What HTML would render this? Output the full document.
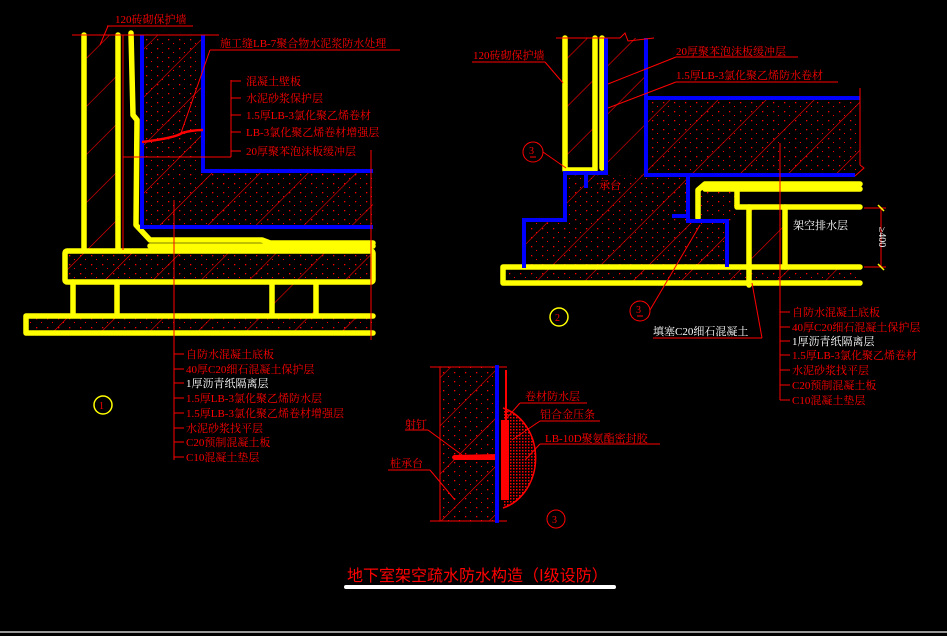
<!DOCTYPE html>
<html><head><meta charset="utf-8"><style>
html,body{margin:0;padding:0;background:#000;}
svg{display:block}
text{font-family:"Liberation Serif","Noto Serif CJK SC","Noto Sans CJK SC",serif;font-size:11px;fill:#f00}
.w{fill:#fff}
</style></head><body>
<svg width="947" height="636" viewBox="0 0 947 636" xmlns="http://www.w3.org/2000/svg">
<defs>
<pattern id="h" width="34" height="34" patternUnits="userSpaceOnUse" patternTransform="rotate(45)">
<rect width="34" height="34" fill="none"/>
<line x1="0" y1="0" x2="0" y2="34" stroke="#f00" stroke-width="1.2"/>
</pattern>
<pattern id="d" width="11" height="9" patternUnits="userSpaceOnUse">
<rect x="3" y="3" width="1.3" height="1.3" fill="#f00"/><rect x="8" y="7" width="1" height="1" fill="#f00"/>
</pattern>
<pattern id="s" width="3" height="3" patternUnits="userSpaceOnUse">
<rect width="3" height="3" fill="#000"/><rect x="0" y="0" width="1.5" height="1.5" fill="#f00"/>
</pattern>
</defs>
<rect width="947" height="636" fill="#000"/>

<!-- DETAIL 1 -->
<g>
<rect x="142" y="35" width="61" height="136" fill="url(#h)"/>
<rect x="142" y="35" width="61" height="136" fill="url(#d)"/>
<rect x="142" y="171" width="231" height="56" fill="url(#h)"/>
<rect x="142" y="171" width="231" height="56" fill="url(#d)"/>
<rect x="84" y="35" width="34" height="215" fill="url(#h)"/>
<rect x="63" y="250" width="310" height="32" fill="url(#h)"/>
<rect x="63" y="250" width="310" height="32" fill="url(#d)"/>
<rect x="24" y="314" width="349" height="21" fill="url(#h)"/>
<rect x="24" y="314" width="349" height="21" fill="url(#d)"/>
<rect x="272" y="282" width="44" height="32" fill="url(#h)"/>
<g stroke="#ff0" stroke-width="5.5" fill="none" stroke-linejoin="round" stroke-linecap="round">
<line x1="84" y1="35" x2="84" y2="250"/>
<line x1="118" y1="35" x2="118" y2="250"/>
<polyline points="131,33 133,115 137,120 136,225 150,240 262,240 270,243 373,243"/>
<line x1="150" y1="246" x2="373" y2="246"/>
<rect x="65" y="251" width="308" height="31" rx="2"/>
<line x1="73" y1="282" x2="73" y2="314"/>
<line x1="117" y1="282" x2="117" y2="314"/>
<line x1="272" y1="282" x2="272" y2="314"/>
<line x1="316" y1="282" x2="316" y2="314"/>
<path d="M373 316 H26 V333 H373"/>
</g>
<g stroke="#00f" stroke-width="4" fill="none">
<polyline points="142,35 142,227 373,227"/>
<polyline points="203,35 203,171 373,171"/>
</g>
<g stroke="#f00" stroke-width="1" fill="none">
<line x1="72" y1="35" x2="219" y2="35"/>
<line x1="107" y1="26" x2="193" y2="26"/>
<line x1="108" y1="26" x2="100" y2="45"/>
<line x1="210" y1="50" x2="400" y2="50"/>
<line x1="210" y1="50" x2="181" y2="133"/>
<line x1="123" y1="157" x2="231" y2="157"/>
<line x1="231" y1="80" x2="231" y2="157"/>
<line x1="231" y1="81" x2="241" y2="81"/><line x1="231" y1="98" x2="241" y2="98"/>
<line x1="231" y1="115" x2="241" y2="115"/><line x1="231" y1="132" x2="241" y2="132"/>
<line x1="231" y1="151" x2="241" y2="151"/>
<line x1="174" y1="200" x2="174" y2="460"/>
<line x1="371" y1="150" x2="371" y2="340"/>
<line x1="174" y1="354" x2="184" y2="354"/><line x1="174" y1="369" x2="184" y2="369"/>
<line x1="174" y1="383" x2="184" y2="383"/><line x1="174" y1="398" x2="184" y2="398"/>
<line x1="174" y1="413" x2="184" y2="413"/><line x1="174" y1="428" x2="184" y2="428"/>
<line x1="174" y1="442" x2="184" y2="442"/><line x1="174" y1="457" x2="184" y2="457"/>
<line x1="123" y1="35" x2="123" y2="250"/>
</g>
<path d="M142 142 Q175 138 182 133 Q192 130 203 130" stroke="#f00" stroke-width="2.5" fill="none"/>
<text x="115" y="23">120砖砌保护墙</text>
<text x="220" y="47">施工缝LB-7聚合物水泥浆防水处理</text>
<text x="246" y="85">混凝土壁板</text>
<text x="246" y="102">水泥砂浆保护层</text>
<text x="246" y="119">1.5厚LB-3氯化聚乙烯卷材</text>
<text x="246" y="136">LB-3氯化聚乙烯卷材增强层</text>
<text x="246" y="155">20厚聚苯泡沫板缓冲层</text>
<text x="186" y="358">自防水混凝土底板</text>
<text x="186" y="373">40厚C20细石混凝土保护层</text>
<text x="186" y="387" class="w">1厚沥青纸隔离层</text>
<text x="186" y="402">1.5厚LB-3氯化聚乙烯防水层</text>
<text x="186" y="417">1.5厚LB-3氯化聚乙烯卷材增强层</text>
<text x="186" y="432">水泥砂浆找平层</text>
<text x="186" y="446">C20预制混凝土板</text>
<text x="186" y="461">C10混凝土垫层</text>
<circle cx="103" cy="405" r="9" stroke="#ff0" stroke-width="1.5" fill="none"/>
<text x="99" y="409" style="font-size:10px">1</text>
</g>

<!-- DETAIL 2 -->
<g>
<rect x="646" y="98" width="214" height="77" fill="url(#h)"/>
<rect x="646" y="98" width="214" height="77" fill="url(#d)"/>
<rect x="606" y="38" width="40" height="137" fill="url(#h)"/>
<rect x="566" y="38" width="29" height="132" fill="url(#h)"/>
<path d="M565 175 H688 V221 H727 V267 H524 V220 H565Z" fill="url(#h)"/>
<path d="M565 175 H688 V221 H727 V267 H524 V220 H565Z" fill="url(#d)"/>
<rect x="693" y="190" width="44" height="31" fill="url(#d)"/>
<rect x="502" y="267" width="358" height="16" fill="url(#h)"/>
<rect x="502" y="267" width="358" height="16" fill="url(#d)"/>
<rect x="749" y="207" width="36" height="60" fill="url(#h)"/>
<g stroke="#ff0" stroke-width="5.5" fill="none" stroke-linejoin="round" stroke-linecap="round">
<polyline points="565,38 565,170 595,170 595,38"/>
<polyline points="602,38 602,168"/>
<polyline points="698,218 698,190 705,184 860,184"/>
<line x1="705" y1="189" x2="860" y2="189"/>
<polyline points="737,186 737,207 860,207"/>
<line x1="749" y1="207" x2="749" y2="285"/>
<line x1="785" y1="207" x2="785" y2="267"/>
<path d="M860 267 H503 V283 H860"/>
</g>
<g stroke="#00f" stroke-width="4" fill="none">
<line x1="606" y1="38" x2="606" y2="175"/>
<polyline points="646,38 646,98 860,98"/>
<polyline points="646,98 646,175 855,175"/>
<polyline points="606,173 565,173 565,220 524,220 524,268"/>
<polyline points="688,175 688,221 727,221 727,267"/>
<line x1="672" y1="216" x2="690" y2="216"/>
<line x1="586" y1="173" x2="586" y2="188"/>
</g>
<g stroke="#f00" stroke-width="1" fill="none">
<line x1="556" y1="38" x2="620" y2="38"/>
<polyline points="620,38 625,33 628,41 654,38"/>
<line x1="472" y1="62" x2="545" y2="62"/>
<line x1="545" y1="62" x2="563" y2="83"/>
<line x1="676" y1="57" x2="798" y2="57"/>
<line x1="676" y1="57" x2="608" y2="84"/>
<line x1="676" y1="82" x2="838" y2="82"/>
<line x1="676" y1="82" x2="608" y2="108"/>
<line x1="543" y1="152" x2="566" y2="168"/>
<line x1="860" y1="88" x2="860" y2="165"/>
<polyline points="860,165 864,168 855,176"/>
<line x1="780" y1="143" x2="780" y2="400"/>
<line x1="780" y1="312" x2="790" y2="312"/><line x1="780" y1="327" x2="790" y2="327"/>
<line x1="780" y1="341" x2="790" y2="341"/><line x1="780" y1="355" x2="790" y2="355"/>
<line x1="780" y1="370" x2="790" y2="370"/><line x1="780" y1="385" x2="790" y2="385"/>
<line x1="780" y1="400" x2="790" y2="400"/>
<line x1="881" y1="207" x2="881" y2="267"/>
<line x1="864" y1="208" x2="886" y2="208"/><line x1="864" y1="267" x2="886" y2="267"/>
<line x1="653" y1="338" x2="762" y2="338"/>
<line x1="762" y1="338" x2="752" y2="283"/>
<line x1="650" y1="310" x2="700" y2="225"/>
</g>
<line x1="878" y1="205" x2="884" y2="211" stroke="#ff0" stroke-width="1.5"/>
<line x1="878" y1="264" x2="884" y2="270" stroke="#ff0" stroke-width="1.5"/>
<circle cx="533" cy="152" r="10" stroke="#f00" fill="none"/>
<text x="529" y="154" style="font-size:10px">3</text><line x1="530" y1="157" x2="536" y2="157" stroke="#f00"/>
<circle cx="640" cy="311" r="10" stroke="#f00" fill="none"/>
<text x="636" y="313" style="font-size:10px">3</text><line x1="637" y1="316" x2="643" y2="316" stroke="#f00"/>
<circle cx="559" cy="317" r="9" stroke="#ff0" stroke-width="1.5" fill="none"/>
<text x="555" y="321" style="font-size:10px">2</text>
<text x="473" y="59">120砖砌保护墙</text>
<text x="676" y="55">20厚聚苯泡沫板缓冲层</text>
<text x="676" y="79">1.5厚LB-3氯化聚乙烯防水卷材</text>
<text x="599" y="189">承台</text>
<text x="793" y="229" class="w">架空排水层</text>
<text x="879" y="237" class="w" transform="rotate(90 879 237)" style="font-size:10px" text-anchor="middle">≥400</text>
<text x="653" y="335" class="w">填塞C20细石混凝土</text>
<text x="792" y="316">自防水混凝土底板</text>
<text x="792" y="331">40厚C20细石混凝土保护层</text>
<text x="792" y="345" class="w">1厚沥青纸隔离层</text>
<text x="792" y="359">1.5厚LB-3氯化聚乙烯卷材</text>
<text x="792" y="374">水泥砂浆找平层</text>
<text x="792" y="389">C20预制混凝土板</text>
<text x="792" y="404">C10混凝土垫层</text>
</g>

<!-- DETAIL 3 -->
<g>
<rect x="440" y="367" width="57" height="154" fill="url(#h)"/>
<rect x="440" y="367" width="57" height="154" fill="url(#d)"/>
<path d="M503 408 A45 52 0 0 1 503 508 Z" fill="url(#s)"/>
<path d="M503 408 A45 52 0 0 1 503 508" stroke="#f00" stroke-width="1.5" fill="none"/>
<g stroke="#f00" stroke-width="1" fill="none">
<line x1="430" y1="367" x2="507" y2="367"/>
<line x1="430" y1="521" x2="507" y2="521"/>
<line x1="440" y1="367" x2="440" y2="521"/>
<line x1="520" y1="403" x2="587" y2="403"/><line x1="520" y1="403" x2="505" y2="420"/>
<line x1="540" y1="421" x2="600" y2="421"/><line x1="540" y1="421" x2="512" y2="440"/>
<line x1="540" y1="444" x2="660" y2="444"/><line x1="540" y1="444" x2="525" y2="460"/>
<line x1="405" y1="430" x2="428" y2="430"/><line x1="428" y1="430" x2="462" y2="455"/>
<line x1="388" y1="470" x2="430" y2="470"/><line x1="430" y1="470" x2="455" y2="500"/>
</g>
<rect x="501" y="420" width="8" height="80" fill="#f00"/>
<rect x="505" y="370" width="2" height="50" fill="#f00"/>
<path d="M454 455 L499 454 L499 460 L454 460 Q450 457 454 455Z" fill="#f00"/>
<line x1="497" y1="365" x2="497" y2="523" stroke="#00f" stroke-width="4"/>
<text x="525" y="400">卷材防水层</text>
<text x="540" y="418">铝合金压条</text>
<text x="545" y="442">LB-10D聚氨酯密封胶</text>
<text x="405" y="428">射钉</text>
<text x="390" y="467">桩承台</text>
<circle cx="556" cy="519" r="9" stroke="#f00" fill="none"/>
<text x="552" y="523" style="font-size:10px">3</text>
</g>

<!-- TITLE -->
<text x="347" y="581" style="font-size:16px;font-family:'Noto Sans CJK SC',sans-serif;">地下室架空疏水防水构造（I级设防）</text>
<line x1="346" y1="587" x2="614" y2="587" stroke="#fff" stroke-width="4" stroke-linecap="round"/>
<line x1="0" y1="632" x2="947" y2="632" stroke="#ccc" stroke-width="1.5"/>
</svg>
</body></html>
